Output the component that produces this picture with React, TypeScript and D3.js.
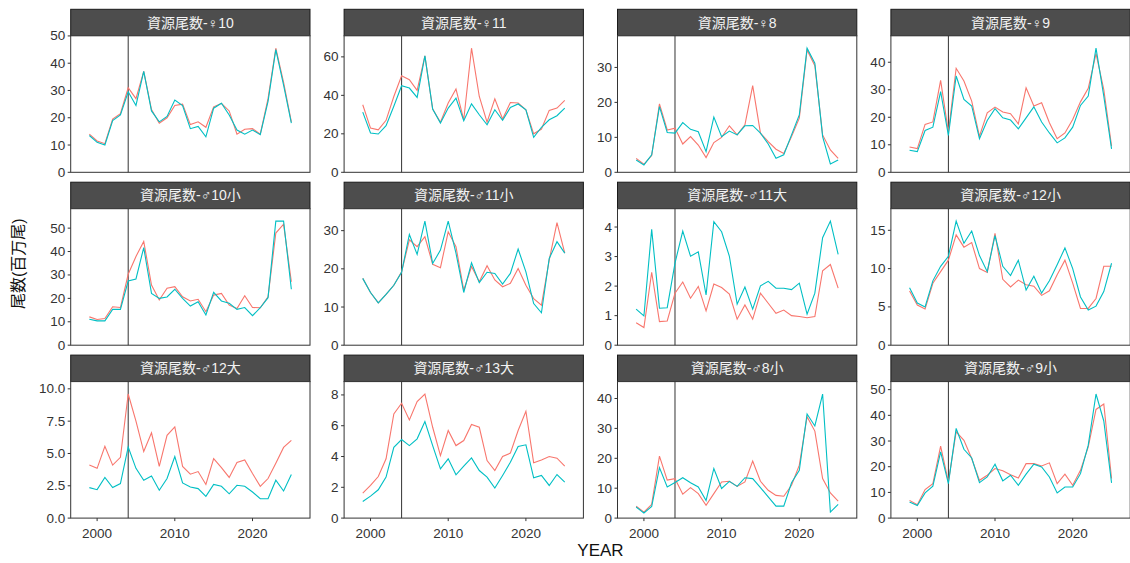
import React from 'react';
import * as d3 from 'd3';

// ---------- data ----------
const YEARS = [1999, 2000, 2001, 2002, 2003, 2004, 2005, 2006, 2007, 2008, 2009, 2010, 2011, 2012, 2013, 2014, 2015, 2016, 2017, 2018, 2019, 2020, 2021, 2022, 2023, 2024, 2025];

const PANEL_TITLES = [
  '資源尾数-♀10', '資源尾数-♀11', '資源尾数-♀8', '資源尾数-♀9',
  '資源尾数-♂10小', '資源尾数-♂11小', '資源尾数-♂11大', '資源尾数-♂12小',
  '資源尾数-♂12大', '資源尾数-♂13大', '資源尾数-♂8小', '資源尾数-♂9小',
];

const X_TICKS = [2000, 2010, 2020];
const X_DOMAIN = [1998, 2026];
const VLINE_YEAR = 2004;

// series A (red) and series B (teal) per panel
const f10A = [14, 11.5, 10.5, 19.5, 21.5, 31, 27, 37, 23, 18, 20, 24.5, 25, 17.5, 18.5, 16.5, 24, 25.3, 22.5, 14, 15.8, 16, 14, 27, 45.5, 33, 18.5];
const f10B = [13.5, 11, 10, 19, 21, 29.5, 24.5, 37, 22.5, 18.5, 20.5, 26.5, 24.5, 16, 16.8, 13, 23.5, 25.3, 21, 15.5, 14, 15.5, 13.8, 26, 45, 32, 18];

const f11A = [35.1, 23, 22.1, 27, 39.4, 50.2, 48.1, 42.6, 60.5, 32.9, 26, 36, 43.3, 27.3, 64.5, 39.4, 26, 38.2, 27.7, 36.3, 36, 32.5, 20, 22.5, 32.2, 33.4, 37.4];
const f11B = [31.3, 20.4, 19.9, 24.2, 34.3, 45, 43.8, 38.9, 60.5, 32.9, 25.6, 33.4, 38.6, 26.8, 35.6, 29.9, 24.7, 32.5, 27, 33.7, 35.5, 32.5, 18.2, 23.4, 27.3, 29.4, 33.4];

const f8A = [4, 2.3, 4.8, 19.6, 12.1, 12.6, 8.1, 10.2, 7.8, 4.2, 8.5, 10, 13.3, 10.7, 13.6, 24.8, 11.2, 8.8, 6.6, 5.4, 10.2, 15.5, 35, 30.5, 10.7, 6.4, 4];
const f8B = [3.5, 2.1, 5, 18.8, 11.4, 11.2, 14.2, 12.3, 11.6, 5.9, 15.8, 10.2, 11.8, 10.7, 13.3, 13.4, 11.2, 8.1, 4, 5, 10.7, 16.4, 35.5, 31.2, 10.2, 2.4, 3.5];

const f9A = [9.2, 8.6, 17.4, 18.3, 33.4, 14.6, 37.8, 33.2, 25.9, 13.1, 21.6, 23.7, 21.9, 21.3, 17.6, 30.7, 24.1, 25.3, 18, 12.2, 14.3, 19.2, 25.6, 30.5, 43.1, 30.1, 9.5];
const f9B = [8, 7.5, 15.2, 16.4, 29.3, 13.4, 35, 26.5, 24.1, 12.2, 18.8, 23.1, 19.8, 19, 15.8, 19.8, 23.8, 18.3, 14.3, 10.7, 12.5, 16.4, 24.3, 27.7, 45.1, 27.7, 8.5];

const m10sA = [12.1, 11, 11.4, 16.4, 16.1, 30.3, 37.9, 44.3, 25.7, 19.3, 24.3, 25, 20.7, 18.9, 19.6, 14.3, 21.4, 22.1, 17.1, 15.7, 21.1, 16.1, 16, 20.7, 47.9, 51.7, 27.1];
const m10sB = [11.1, 10.4, 10.4, 15.3, 15.3, 27.4, 28.3, 41.7, 22.1, 20, 20.6, 23.9, 20, 16.7, 18.6, 12.9, 22.6, 18.9, 17.9, 15.3, 16.1, 12.6, 16, 20.3, 53, 53, 23.9];

const m11sA = [17.5, 13.8, 11.1, 13.3, 15.7, 19.2, 27.6, 25.8, 28.4, 21.2, 20.3, 29.7, 25.8, 14.4, 20.6, 16.6, 20.8, 17.1, 15.3, 16.2, 20.1, 15.7, 12.2, 10.5, 22.3, 32.1, 24.1];
const m11sB = [17.5, 13.8, 11.1, 13.3, 15.7, 19.1, 29, 23.8, 32.5, 21.4, 24.9, 32.5, 24.1, 13.8, 21.6, 16.4, 19.1, 18.8, 16, 18.8, 25.2, 19.2, 10.9, 8.5, 22.7, 27.1, 24.1];

const m11lA = [0.76, 0.6, 2.47, 0.8, 0.82, 1.76, 2.14, 1.59, 1.99, 1.16, 2.07, 1.95, 1.73, 0.88, 1.36, 0.88, 1.76, 1.42, 1.08, 1.19, 1, 0.97, 0.93, 0.97, 2.52, 2.73, 1.93];
const m11lB = [1.22, 0.99, 3.92, 1.25, 1.27, 2.78, 3.86, 3.01, 3.16, 1.7, 4.18, 3.84, 3.01, 1.39, 1.97, 1.22, 2.01, 2.16, 1.93, 1.93, 1.88, 2.1, 1.05, 1.76, 3.64, 4.2, 3.07];

const m12sA = [7.07, 5.24, 4.72, 8.08, 9.6, 11.1, 14.4, 12.8, 13.4, 10, 9.5, 14.6, 8.6, 7.6, 8.5, 7.9, 7.7, 6.5, 7.1, 9.2, 11.1, 8.1, 4.8, 4.8, 6.1, 10.3, 10.3];
const m12sB = [7.5, 5.5, 5, 8.4, 10.3, 11.6, 16.2, 13.3, 14.9, 11.7, 9.6, 14.3, 10.3, 9.1, 11.1, 7.2, 9, 6.8, 8.4, 10.5, 12.7, 10, 6.3, 4.6, 5.1, 7, 10.7];

const m12lA = [4.1, 3.85, 5.55, 4.1, 4.7, 9.6, 7.5, 5.15, 6.6, 4, 6.4, 7.05, 4, 3.4, 3.6, 2.6, 4.6, 3.9, 3.15, 4.3, 4.5, 3.45, 2.46, 3.06, 4.24, 5.47, 6.02];
const m12lB = [2.36, 2.2, 3.14, 2.36, 2.67, 5.5, 3.85, 2.93, 3.25, 2.15, 3.06, 4.76, 2.72, 2.4, 2.28, 1.68, 2.6, 2.46, 1.88, 2.54, 2.46, 2.02, 1.5, 1.5, 2.93, 2.1, 3.38];

const m13lA = [1.62, 2.12, 2.7, 3.85, 6.77, 7.46, 6.38, 7.57, 8.06, 5.9, 4.06, 5.69, 4.71, 5.04, 6.08, 5.9, 3.74, 3.09, 4, 4.22, 5.69, 6.94, 3.59, 3.78, 4, 3.89, 3.37];
const m13lB = [1.08, 1.43, 1.84, 2.66, 4.6, 5.1, 4.71, 5.15, 6.27, 4.71, 3.2, 3.85, 2.81, 3.37, 3.91, 3.09, 2.66, 1.95, 2.77, 3.63, 4.65, 4.76, 2.62, 2.77, 2.12, 2.83, 2.34];

const m8sA = [4, 2, 4.6, 20.7, 12.7, 13.2, 8, 10.2, 8.2, 4.3, 8.2, 12.1, 12.3, 10.6, 12.1, 19.1, 12.3, 9.3, 7.6, 7.3, 11, 17.7, 33.9, 29.1, 13.2, 8.4, 5.7];
const m8sB = [3.7, 1.7, 3.9, 16.9, 10.4, 11.9, 13.5, 11.8, 10.4, 5.9, 16.6, 9.9, 12.3, 10.6, 13.5, 13.2, 10.2, 7.1, 4, 4, 11.8, 16, 34.8, 30.8, 41.5, 2, 4.6];

const m9sA = [6.9, 5.2, 11.1, 13.4, 28, 14.1, 33.6, 30.3, 23.2, 14.7, 16.7, 19.3, 18.4, 16.9, 15.6, 21.2, 21.2, 20.3, 21.5, 13.4, 17.1, 12.8, 18.6, 27.7, 42.3, 44.4, 15.4];
const m9sB = [6.3, 4.9, 9.8, 12.4, 25.8, 13.4, 34.9, 26.8, 23.4, 13.8, 16, 21, 14.5, 16.7, 12.8, 17.1, 21, 19.9, 16, 9.8, 12.1, 12.1, 17.3, 28.4, 48.3, 37.8, 13.7];

const SERIES_A = [f10A, f11A, f8A, f9A, m10sA, m11sA, m11lA, m12sA, m12lA, m13lA, m8sA, m9sA];
const SERIES_B = [f10B, f11B, f8B, f9B, m10sB, m11sB, m11lB, m12sB, m12lB, m13lB, m8sB, m9sB];

const Y_TICKS = [
  [0, 10, 20, 30, 40, 50], [0, 20, 40, 60], [0, 10, 20, 30], [0, 10, 20, 30, 40],
  [0, 10, 20, 30, 40, 50], [0, 10, 20, 30], [0, 1, 2, 3, 4], [0, 5, 10, 15],
  [0, 2.5, 5, 7.5, 10], [0, 2, 4, 6, 8], [0, 10, 20, 30, 40], [0, 10, 20, 30, 40, 50],
];
const Y_TICK_FORMAT = ['d', 'd', 'd', 'd', 'd', 'd', 'd', 'd', '.1f', 'd', 'd', 'd'];

const X_TITLE = 'YEAR';
const Y_TITLE = '尾数(百万尾)';

// ---------- layout / style ----------
const W = 1130;
const H = 563;
const COL_LEFT = 70.7;
const COL_PITCH = 273.4;
const PANEL_W = 239.3;
const ROW_TOP = 9.3;
const ROW_PITCH = 172.9;
const STRIP_H = 26.5;
const PANEL_H = 136.5;
const COLOR_A = '#F8766D';
const COLOR_B = '#00BFC4';
const FONT = "'Liberation Sans', Arial, 'Noto Sans CJK JP', sans-serif";
const CJK_FONT = "'Liberation Sans', Arial, 'Noto Sans CJK JP', 'DejaVu Sans', sans-serif";

function Panel({ idx }: { idx: number }) {
  const col = idx % 4;
  const row = Math.floor(idx / 4);
  const gx = COL_LEFT + col * COL_PITCH;
  const gy = ROW_TOP + row * ROW_PITCH;
  const py = gy + STRIP_H;
  const a = SERIES_A[idx];
  const b = SERIES_B[idx];
  const maxV = d3.max([...a, ...b]) as number;

  const span = X_DOMAIN[1] - X_DOMAIN[0];
  const x = d3.scaleLinear()
    .domain([X_DOMAIN[0] - span * 0.05, X_DOMAIN[1] + span * 0.05])
    .range([0, PANEL_W]);
  const y = d3.scaleLinear().domain([0, maxV * 1.1]).range([PANEL_H, 0]);

  const line = d3.line<number>()
    .x((_, i) => x(YEARS[i]))
    .y((v) => y(v));

  const fmt = d3.format(Y_TICK_FORMAT[idx]);
  const isBottom = row === 2;

  return (
    <g>
      <rect x={gx} y={gy} width={PANEL_W} height={STRIP_H} fill="#4d4d4d" stroke="#1a1a1a" strokeWidth={1} />
      <text x={gx + PANEL_W / 2} y={gy + STRIP_H / 2} textAnchor="middle" dominantBaseline="central"
        fontSize={14} fill="#f2f2f2" fontFamily={CJK_FONT}>{PANEL_TITLES[idx]}</text>
      <g transform={`translate(${gx},${py})`}>
        <rect x={0} y={0} width={PANEL_W} height={PANEL_H} fill="#ffffff" />
        <line x1={x(VLINE_YEAR)} x2={x(VLINE_YEAR)} y1={0} y2={PANEL_H} stroke="#333" strokeWidth={1} />
        <path d={line(a) || ''} fill="none" stroke={COLOR_A} strokeWidth={1.1} />
        <path d={line(b) || ''} fill="none" stroke={COLOR_B} strokeWidth={1.1} />
        <rect x={0} y={0} width={PANEL_W} height={PANEL_H} fill="none" stroke="#333" strokeWidth={1} />
        {Y_TICKS[idx].map((t) => (
          <g key={t} transform={`translate(0,${y(t)})`}>
            <line x1={-3} x2={0} y1={0} y2={0} stroke="#333" strokeWidth={1} />
            <text x={-5.5} y={0} textAnchor="end" dominantBaseline="central" fontSize={13.5}
              fill="#333" fontFamily={FONT}>{fmt(t)}</text>
          </g>
        ))}
        {isBottom && X_TICKS.map((t) => (
          <g key={t} transform={`translate(${x(t)},${PANEL_H})`}>
            <line x1={0} x2={0} y1={0} y2={3} stroke="#333" strokeWidth={1} />
            <text x={0} y={15} textAnchor="middle" dominantBaseline="central" fontSize={13.5}
              fill="#333" fontFamily={FONT}>{t}</text>
          </g>
        ))}
      </g>
    </g>
  );
}

export default function App() {
  const plotLeft = COL_LEFT;
  const plotRight = COL_LEFT + 3 * COL_PITCH + PANEL_W;
  const plotTop = ROW_TOP;
  const plotBottom = ROW_TOP + 2 * ROW_PITCH + STRIP_H + PANEL_H;
  return (
    <>
      <style>{'body{margin:0}'}</style>
      <svg width={W} height={H} style={{ display: 'block', background: '#fff' }}>
        {PANEL_TITLES.map((_, i) => <Panel key={i} idx={i} />)}
        <text x={(plotLeft + plotRight) / 2} y={550} textAnchor="middle" dominantBaseline="central"
          fontSize={17} fill="#111" fontFamily={FONT}>{X_TITLE}</text>
        <text transform={`translate(18,${(plotTop + plotBottom) / 2}) rotate(-90)`} textAnchor="middle"
          dominantBaseline="central" fontSize={16} fill="#111" fontFamily={CJK_FONT}>{Y_TITLE}</text>
      </svg>
    </>
  );
}
